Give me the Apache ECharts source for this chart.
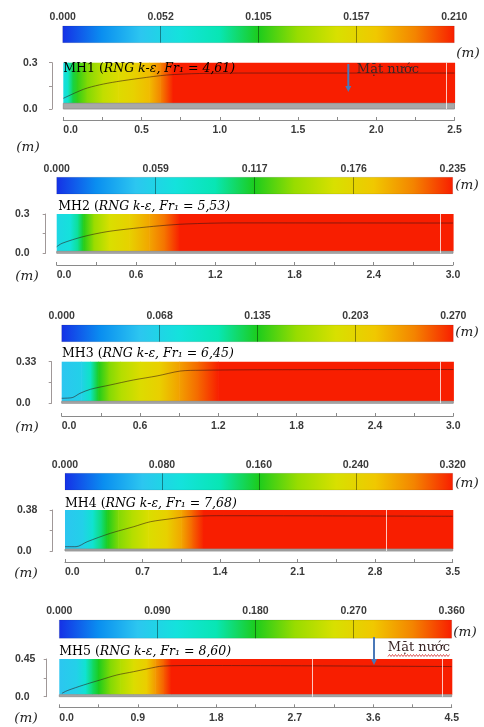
<!DOCTYPE html>
<html><head><meta charset="utf-8">
<script src="https://cdn.jsdelivr.net/npm/echarts@6/dist/echarts.min.js"></script>
<style>html,body{margin:0;padding:0;background:#fff}#c{width:484px;height:727px}</style>
</head><body><div id="c"></div>
<script>
// ================= DATA =================
const panelNames = ['MH1', 'MH2', 'MH3', 'MH4', 'MH5'];
const froude = ['4,61', '5,53', '6,45', '7,68', '8,60'];

// colour-bar tick values (m)
const cbTicks1 = [0.000, 0.052, 0.105, 0.157, 0.210];
const cbTicks2 = [0.000, 0.059, 0.117, 0.176, 0.235];
const cbTicks3 = [0.000, 0.068, 0.135, 0.203, 0.270];
const cbTicks4 = [0.000, 0.080, 0.160, 0.240, 0.320];
const cbTicks5 = [0.000, 0.090, 0.180, 0.270, 0.360];

// x tick labels (m)
const xTicks1 = ['0.0', '0.5', '1.0', '1.5', '2.0', '2.5'];
const xTicks2 = ['0.0', '0.6', '1.2', '1.8', '2.4', '3.0'];
const xTicks3 = ['0.0', '0.6', '1.2', '1.8', '2.4', '3.0'];
const xTicks4 = ['0.0', '0.7', '1.4', '2.1', '2.8', '3.5'];
const xTicks5 = ['0.0', '0.9', '1.8', '2.7', '3.6', '4.5'];

// y tick labels (m)
const yTicks1 = ['0.0', '0.3'];
const yTicks2 = ['0.0', '0.3'];
const yTicks3 = ['0.0', '0.33'];
const yTicks4 = ['0.0', '0.38'];
const yTicks5 = ['0.0', '0.45'];

// contour field along the flume: [x (m), value (m)]
const field1 = [[0,0.059],[0.03,0.074],[0.06,0.099],[0.09,0.109],[0.15,0.122],[0.25,0.139],[0.35,0.151],[0.45,0.160],[0.55,0.172],[0.62,0.189],[0.70,0.210],[2.5,0.210]];
const field2 = [[0,0.061],[0.10,0.071],[0.16,0.099],[0.20,0.118],[0.28,0.141],[0.40,0.165],[0.55,0.179],[0.70,0.200],[0.82,0.216],[0.93,0.235],[3.0,0.235]];
const field3 = [[0,0.054],[0.15,0.065],[0.22,0.097],[0.28,0.135],[0.36,0.157],[0.45,0.173],[0.60,0.194],[0.75,0.208],[0.90,0.232],[1.05,0.251],[1.20,0.270],[3.0,0.270]];
const field4 = [[0,0.064],[0.16,0.077],[0.25,0.106],[0.33,0.141],[0.38,0.160],[0.48,0.186],[0.60,0.205],[0.75,0.227],[0.92,0.246],[1.05,0.272],[1.15,0.298],[1.25,0.320],[3.5,0.320]];
const field5 = [[0,0.072],[0.20,0.086],[0.30,0.119],[0.38,0.162],[0.45,0.180],[0.58,0.209],[0.70,0.230],[0.85,0.256],[1.00,0.281],[1.10,0.313],[1.20,0.338],[1.28,0.360],[4.5,0.360]];

// free-surface profile: [x (m), y (m)]
const surface1 = [[0,0.069],[0.13,0.128],[0.23,0.156],[0.34,0.177],[0.49,0.199],[0.66,0.220],[0.87,0.230],[1.2,0.233],[2.5,0.233]];
const surface2 = [[0,0.050],[0.04,0.076],[0.20,0.127],[0.38,0.165],[0.58,0.190],[0.78,0.210],[0.98,0.224],[1.34,0.232],[3.0,0.231]];
const surface3 = [[0,0.040],[0.08,0.045],[0.14,0.079],[0.22,0.111],[0.37,0.145],[0.55,0.185],[0.73,0.217],[0.91,0.256],[1.06,0.262],[1.5,0.266],[3.0,0.268]];
const surface4 = [[0,0.040],[0.10,0.040],[0.20,0.086],[0.41,0.164],[0.62,0.225],[0.77,0.271],[0.98,0.302],[1.10,0.318],[1.37,0.327],[3.5,0.322]];
const surface5 = [[0.03,0.040],[0.09,0.072],[0.28,0.140],[0.47,0.200],[0.66,0.259],[0.85,0.298],[1.02,0.335],[1.19,0.366],[1.6,0.372],[4.5,0.360]];

// bed thickness (m) and mesh-block boundaries (m)
const bedTop = [0.037, 0.015, 0.016, 0.018, 0.024];
const blocks1 = [2.45];
const blocks2 = [2.9];
const blocks3 = [2.9];
const blocks4 = [2.9];
const blocks5 = [2.9, 4.39];

// ================= STYLE / LAYOUT =================
const palette = ['#1530e6','#0a8ef0','#2cc6f0','#14e2dc','#08e6b4','#1ccc1c','#98dc00','#d8e000','#f0c800','#f48400','#f81e00'];
const cbTicks = [cbTicks1, cbTicks2, cbTicks3, cbTicks4, cbTicks5];
const xTicks = [xTicks1, xTicks2, xTicks3, xTicks4, xTicks5];
const yTicks = [yTicks1, yTicks2, yTicks3, yTicks4, yTicks5];
const fields = [field1, field2, field3, field4, field5];
const surfaces = [surface1, surface2, surface3, surface4, surface5];
const blocks = [blocks1, blocks2, blocks3, blocks4, blocks5];

const L = [
  {cb:[62.7,26,454.3,42.7], plot:[63.3,62.7,454.5,109], yOff:11.3, xOff:11, yLab:23, title:[63.3,69], mR:[468,53], mL:[28,147]},
  {cb:[56.7,177.3,452.7,194], plot:[56.7,214,453,253.3], yOff:11, xOff:11.7, yLab:15, title:[58.3,206.5], mR:[467,185], mL:[27,276]},
  {cb:[61.7,325,453.3,341.7], plot:[61.7,361.7,453.3,403.3], yOff:10, xOff:12.7, yLab:16, title:[62,354], mR:[467,332], mL:[27,427]},
  {cb:[65,473.3,452.7,490], plot:[65,510,452.7,551], yOff:12.3, xOff:11, yLab:17, title:[65,503.5], mR:[467,483], mL:[26,573]},
  {cb:[59.3,620,451.7,638.3], plot:[59.3,659,451.7,696.7], yOff:12.6, xOff:10.6, yLab:15, title:[59.3,651.5], mR:[465,632], mL:[26,718]}
];

const tickFont = {fontFamily:'Liberation Sans', fontWeight:'bold', fontSize:10.5, color:'#3a3a3a'};
const serif = 'DejaVu Serif';

const grids = [], xAxes = [], yAxes = [], series = [], graphics = [];

function colorOf(v, vmax) { return echarts.color.lerp(Math.max(0, Math.min(1, v / vmax)), palette); }

for (let k = 0; k < 5; k++) {
  const lay = L[k];
  const cbt = cbTicks[k], vmax = cbt[cbt.length - 1], cbInt = vmax / 4;
  const xt = xTicks[k], xmax = parseFloat(xt[xt.length - 1]), xstep = parseFloat(xt[1]);
  const yt = yTicks[k], ymax = parseFloat(yt[yt.length - 1]);
  const bed = bedTop[k];

  // colour-bar grid
  const gCb = grids.length;
  grids.push({left: lay.cb[0], top: lay.cb[1], width: lay.cb[2] - lay.cb[0], height: lay.cb[3] - lay.cb[1]});
  xAxes.push({gridIndex: gCb, type:'value', min:0, max:vmax, interval:cbInt, position:'top', z:3,
    axisLine:{show:false}, axisTick:{show:false},
    splitLine:{show:true, showMinLine:false, showMaxLine:false, lineStyle:{color:'rgba(0,0,0,0.4)', width:1}},
    axisLabel:Object.assign({margin:3, formatter:(v)=>cbt[Math.round(v / cbInt)].toFixed(3)}, tickFont)});
  yAxes.push({gridIndex: gCb, type:'value', min:0, max:1, show:false});
  series.push({type:'custom', xAxisIndex:gCb, yAxisIndex:gCb, z:1, silent:true,
    data:[[cbt[0], vmax]], encode:{x:[0,1]},
    renderItem:(params, api) => {
      const p0 = api.coord([api.value(0), 1]), p1 = api.coord([api.value(1), 0]);
      return {type:'rect', shape:{x:p0[0], y:p0[1], width:p1[0]-p0[0], height:p1[1]-p0[1]},
        style:{fill:new echarts.graphic.LinearGradient(0,0,1,0, palette.map((c,i)=>({offset:i/(palette.length-1), color:c}))),
               stroke:'rgba(0,0,0,0.18)', lineWidth:0.6}};
    }});

  // main grid
  const gM = grids.length;
  grids.push({left: lay.plot[0], top: lay.plot[1], width: lay.plot[2] - lay.plot[0], height: lay.plot[3] - lay.plot[1]});
  xAxes.push({gridIndex:gM, type:'value', min:0, max:xmax, interval:xstep, position:'bottom', offset:lay.xOff,
    axisLine:{show:true, onZero:false, lineStyle:{color:'#8a8a8a', width:1}},
    axisTick:{show:true, inside:true, length:3, lineStyle:{color:'#8a8a8a'}},
    minorTick:{show:true, splitNumber:2, length:3, lineStyle:{color:'#8a8a8a'}},
    splitLine:{show:false},
    axisLabel:Object.assign({margin:5, alignMinLabel:'left', formatter:(v)=>xt[Math.round(v / xstep)]}, tickFont)});
  yAxes.push({gridIndex:gM, type:'value', min:0, max:ymax, interval:ymax/2, offset:lay.yOff,
    axisLine:{show:true, onZero:false, lineStyle:{color:'#a09898', width:1}},
    axisTick:{show:true, length:3, lineStyle:{color:'#a09898'}},
    splitLine:{show:false},
    axisLabel:Object.assign({align:'left', margin:(lay.plot[0]-lay.yOff)-lay.yLab,
      formatter:(v)=> v < 1e-9 ? yt[0] : (Math.abs(v - ymax) < 1e-9 ? yt[1] : '')}, tickFont)});

  // field
  const f = fields[k];
  const segs = f.slice(1).map((p, i) => [f[i][0], p[0], f[i][1], p[1]]);
  series.push({type:'custom', xAxisIndex:gM, yAxisIndex:gM, z:1, silent:true, data:segs, encode:{x:[0,1]},
    renderItem:(params, api) => {
      const p0 = api.coord([api.value(0), ymax]), p1 = api.coord([api.value(1), bed]);
      return {type:'rect', shape:{x:p0[0], y:p0[1], width:p1[0]-p0[0]+0.6, height:p1[1]-p0[1]},
        style:{fill:new echarts.graphic.LinearGradient(0,0,1,0,[
          {offset:0, color:colorOf(api.value(2), vmax)}, {offset:1, color:colorOf(api.value(3), vmax)}])}};
    }});
  // bed
  series.push({type:'custom', xAxisIndex:gM, yAxisIndex:gM, z:1, silent:true, data:[[0, xmax, bed]], encode:{x:[0,1]},
    renderItem:(params, api) => {
      const p0 = api.coord([api.value(0), api.value(2)]), p1 = api.coord([api.value(1), 0]);
      return {type:'rect', shape:{x:p0[0], y:p0[1], width:p1[0]-p0[0], height:p1[1]-p0[1]},
        style:{fill:'#a8a8a8', stroke:'#8c8c8c', lineWidth:0.8}};
    }});
  // free surface + block lines
  series.push({type:'line', xAxisIndex:gM, yAxisIndex:gM, z:3, silent:true, data:surfaces[k], symbol:'none', smooth:0.3,
    lineStyle:{color:'rgba(50,20,20,0.55)', width:1},
    markLine:{silent:true, symbol:['none','none'], label:{show:false},
      lineStyle:{color:'rgba(255,255,255,0.75)', width:1, type:'solid'},
      data:blocks[k].map(b => ({xAxis:b}))}});

  // title
  graphics.push({type:'text', x:lay.title[0], y:lay.title[1], z:100,
    style:{text:'{a|' + panelNames[k] + ' (}{b|RNG k-ε, Fr₁ = ' + froude[k] + ')}',
      verticalAlign:'middle', align:'left',
      rich:{a:{fontFamily:serif, fontSize:12.5, color:'#222'}, b:{fontFamily:serif, fontStyle:'italic', fontSize:12.5, color:'#222'}}}});
  // (m) labels
  graphics.push({type:'text', x:lay.mR[0], y:lay.mR[1], style:{text:'(m)', font:'italic 13.5px "DejaVu Serif"', fill:'#222', align:'center', verticalAlign:'middle'}});
  graphics.push({type:'text', x:lay.mL[0], y:lay.mL[1], style:{text:'(m)', font:'italic 13.5px "DejaVu Serif"', fill:'#222', align:'center', verticalAlign:'middle'}});
}

// "Mặt nước" annotations with arrows
function arrowParts(x, y1, y2) {
  return [
    {type:'line', z:100, shape:{x1:x, y1:y1, x2:x, y2:y2-5}, style:{stroke:'#4a78b8', lineWidth:2}},
    {type:'polygon', z:100, shape:{points:[[x-3,y2-6],[x+3,y2-6],[x,y2]]}, style:{fill:'#4a78b8'}}
  ];
}
arrowParts(348.3, 64, 92).forEach(e => graphics.push(e));
graphics.push({type:'text', x:388, y:70, z:100, style:{text:'Mặt nước', font:'13px "DejaVu Serif"', fill:'#3a2626', align:'center', verticalAlign:'middle'}});
arrowParts(374, 637, 665).forEach(e => graphics.push(e));
graphics.push({type:'text', x:419, y:648, z:100, style:{text:'Mặt nước', font:'13px "DejaVu Serif"', fill:'#3a2626', align:'center', verticalAlign:'middle'}});
const wave = [];
for (let x = 388, i = 0; x <= 450; x += 1.5, i++) wave.push([x, i % 2 ? 654.5 : 656.5]);
graphics.push({type:'polyline', z:100, shape:{points:wave}, style:{stroke:'#d03030', lineWidth:0.8, fill:null}});

const chart = echarts.init(document.getElementById('c'), null, {renderer:'canvas'});
chart.setOption({animation:false, backgroundColor:'#fff', grid:grids, xAxis:xAxes, yAxis:yAxes, series:series, graphic:graphics});
</script>
</body></html>
